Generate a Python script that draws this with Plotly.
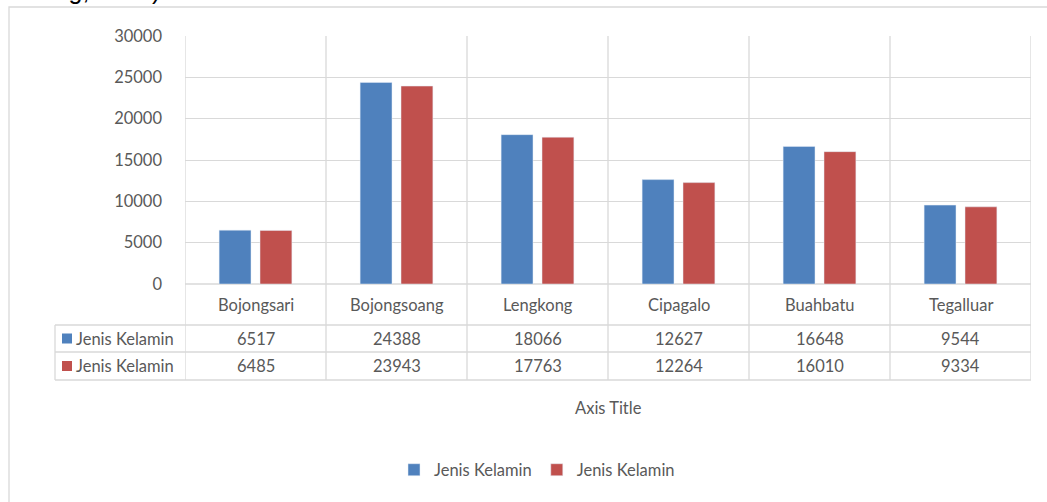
import plotly.graph_objects as go

categories = ["Bojongsari", "Bojongsoang", "Lengkong", "Cipagalo", "Buahbatu", "Tegalluar"]
series1_name = "Jenis Kelamin"
series2_name = "Jenis Kelamin"
series1 = [6517, 24388, 18066, 12627, 16648, 9544]
series2 = [6485, 23943, 17763, 12264, 16010, 9334]
y_ticks = [0, 5000, 10000, 15000, 20000, 25000, 30000]
x_title = "Axis Title"

W, H = 1047, 502
BLUE = "#4F81BD"
RED = "#C0504D"
GRID = "#D9D9D9"
TXT = "#595959"
FONT = "Lato"
FS = 16.5

def px(x):
    return x / W

def py(y):
    return 1 - y / H

plot_l, plot_r, plot_t, plot_b = 185, 1031, 36, 284
row1_b, row2_b = 325, 352
tab_b = 380
tab_l = 55

fig = go.Figure()
fig.add_trace(go.Bar(x=categories, y=series1, name=series1_name, marker_color=BLUE))
fig.add_trace(go.Bar(x=categories, y=series2, name=series2_name, marker_color=RED))

shapes = []
annotations = []

# chart border
shapes.append(dict(type="rect", xref="paper", yref="paper", x0=px(9), x1=px(1060), y0=py(520), y1=py(7),
                   line=dict(color=GRID, width=1.3), layer="below"))

# vertical category lines spanning plot and table
for i in range(len(categories) + 1):
    shapes.append(dict(type="line", xref="x", yref="paper", x0=i - 0.5, x1=i - 0.5,
                       y0=py(tab_b), y1=py(plot_t), line=dict(color=GRID, width=1.3), layer="below"))
# table horizontal lines
for yy, x0 in [(plot_b, plot_l), (row1_b, tab_l), (row2_b, tab_l), (tab_b, tab_l)]:
    shapes.append(dict(type="line", xref="paper", yref="paper", x0=px(x0), x1=px(plot_r),
                       y0=py(yy), y1=py(yy), line=dict(color=GRID, width=1.3), layer="below"))
shapes.append(dict(type="line", xref="paper", yref="paper", x0=px(tab_l), x1=px(tab_l),
                   y0=py(tab_b), y1=py(row1_b), line=dict(color=GRID, width=1.3), layer="below"))

def cell(x, xref, y, text, xanchor="center"):
    return dict(x=x, xref=xref, y=y, yref="paper", text=text, showarrow=False,
                xanchor=xanchor, yanchor="middle", font=dict(family=FONT, size=FS, color=TXT))

# table content
for i, c in enumerate(categories):
    annotations.append(cell(i, "x", py((plot_b + row1_b) / 2), c))
    annotations.append(cell(i, "x", py((row1_b + row2_b) / 2), str(series1[i])))
    annotations.append(cell(i, "x", py((row2_b + tab_b) / 2), str(series2[i])))

for (ytop, ybot), name, col in [((row1_b, row2_b), series1_name, BLUE), ((row2_b, tab_b), series2_name, RED)]:
    yc = (ytop + ybot) / 2
    shapes.append(dict(type="rect", xref="paper", yref="paper", x0=px(62), x1=px(72),
                       y0=py(yc + 5), y1=py(yc - 5), fillcolor=col, line=dict(width=0)))
    annotations.append(cell(px(74), "paper", py(yc), name, xanchor="left"))

# axis title
annotations.append(cell(px(608), "paper", py(408), x_title))

# clipped caption text at top (mostly cut off in the reference)
annotations.append(dict(x=px(-3), xref="paper", y=py(6), yref="paper", text="andung, 2017)", xanchor="left",
                        yanchor="bottom", showarrow=False,
                        font=dict(family="Liberation Sans", size=25, color="#000000")))

fig.update_layout(
    width=W, height=H,
    margin=dict(l=0, r=0, t=0, b=0, autoexpand=False),
    paper_bgcolor="white", plot_bgcolor="white",
    barmode="group", bargap=0.42, bargroupgap=0.22,
    font=dict(family=FONT, size=FS, color=TXT),
    showlegend=True,
    legend=dict(orientation="h", x=px(537), xanchor="center", y=py(470), yanchor="middle",
                font=dict(family=FONT, size=FS, color=TXT), itemwidth=30, tracegroupgap=0),
    xaxis=dict(domain=[px(plot_l), px(plot_r)], range=[-0.5, len(categories) - 0.5],
               showticklabels=False, showgrid=False, zeroline=False, showline=False, ticks=""),
    yaxis=dict(domain=[py(plot_b), py(plot_t)], range=[0, 30000], tickvals=y_ticks, tickformat="d",
               showgrid=True, gridcolor=GRID, gridwidth=1.3, zeroline=False, showline=False,
               ticks="", ticklabelstandoff=22, tickfont=dict(family=FONT, size=FS, color=TXT)),
    shapes=shapes,
    annotations=annotations,
)

fig.write_html("out.html", config={"displayModeBar": False},
               post_script="document.body.style.margin='0';document.body.style.overflow='hidden';")
